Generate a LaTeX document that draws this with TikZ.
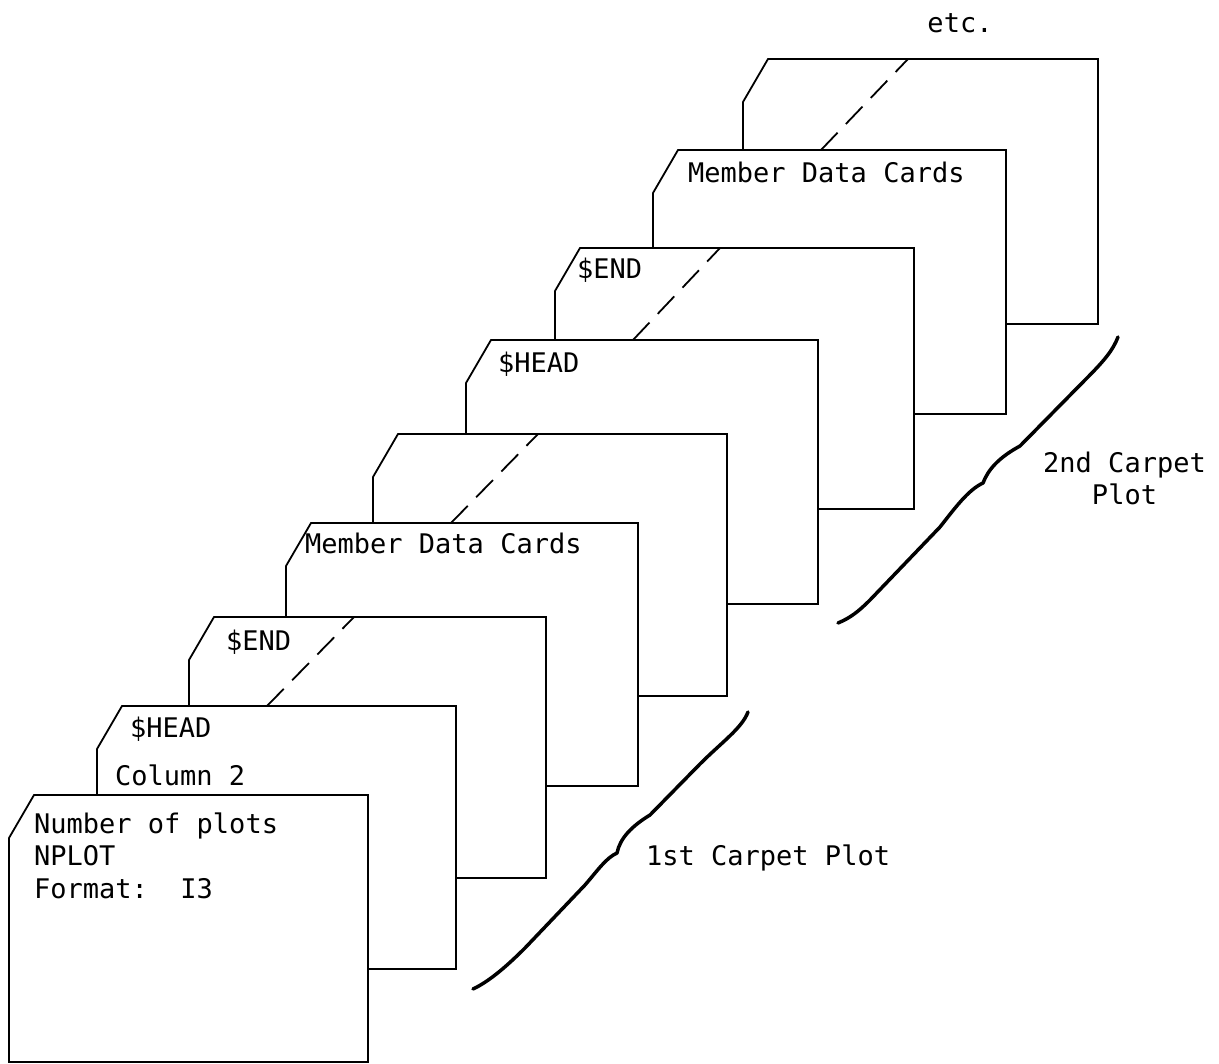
\documentclass[tikz,border=0pt]{standalone}
\usepackage{fontspec}
\setmonofont{DejaVu Sans Mono}
\newcommand\deckcard[4]{\draw[cardline] (#1,#2+43) -- (#1+25,#2) -- (#3,#2) -- (#3,#4) -- (#1,#4) -- cycle;}
\begin{document}
\begin{tikzpicture}[x=1pt,y=-1pt,
  cardline/.style={line width=1.8pt, line join=miter, fill=white, draw=black},
  punch/.style={line width=1.8pt, dash pattern=on 24pt off 12pt},
  brace/.style={line width=3.5pt, line cap=round, line join=round},
  lbl/.style={font=\ttfamily\fontsize{27}{32}\selectfont, inner sep=0pt, anchor=base west},
]
\useasboundingbox (0,0) rectangle (1219,1064);
\fill[white] (0,0) rectangle (1219,1064);

\node[lbl, anchor=base] (etc) at (960,33) {etc.};

% card 9
\deckcard{743}{59}{1098}{324}
\draw[punch] (821,150) -- (908,59);
% card 8
\deckcard{653}{150}{1006}{414}
\node[lbl] (mdc2) at (688,183) {Member Data Cards};
% card 7
\deckcard{555}{248}{914}{509}
\node[lbl] (end2) at (577,279) {\$END};
\draw[punch] (633,340) -- (720,248);
% card 6
\deckcard{466}{340}{818}{604}
\node[lbl] (head2) at (498,373) {\$HEAD};
% card 5
\deckcard{373}{434}{727}{696}
\draw[punch] (451,523) -- (538,434);
% card 4
\deckcard{286}{523}{638}{786}
\node[lbl] (mdc1) at (305,553) {Member Data Cards};
% card 3
\deckcard{189}{617}{546}{878}
\node[lbl] (end1) at (226,650) {\$END};
\draw[punch] (267,706) -- (354,617);
% card 2
\deckcard{97}{706}{456}{969}
\node[lbl] (head1) at (130,737) {\$HEAD};
\node[lbl] (col) at (115,785) {Column 2};
% card 1
\deckcard{9}{795}{368}{1062}
\node[lbl] (np1) at (34,833) {Number of plots};
\node[lbl] (np2) at (34,865) {NPLOT};
\node[lbl] (np3) at (34,898) {Format:\ \ I3};

% braces
\draw[brace] (473,989) .. controls (488,982) and (505,968) .. (525,948) -- (585,885)
  .. controls (598,870) and (606,858) .. (617,853)
  .. controls (620,838) and (632,826) .. (650,815) -- (700,764)
  .. controls (722,742) and (742,728) .. (748,712);
\node[lbl] (first) at (646,865) {1st Carpet Plot};

\draw[brace] (838,623) .. controls (850,618) and (858,612) .. (870,600) -- (940,527)
  .. controls (955,508) and (968,490) .. (983,483)
  .. controls (988,470) and (998,458) .. (1020,446) -- (1085,380)
  .. controls (1105,360) and (1113,350) .. (1118,337);
\node[lbl, anchor=base] (second) at (1124.5,473) {2nd Carpet};
\node[lbl, anchor=base] (secondb) at (1124.5,505) {Plot};
\end{tikzpicture}
\end{document}
